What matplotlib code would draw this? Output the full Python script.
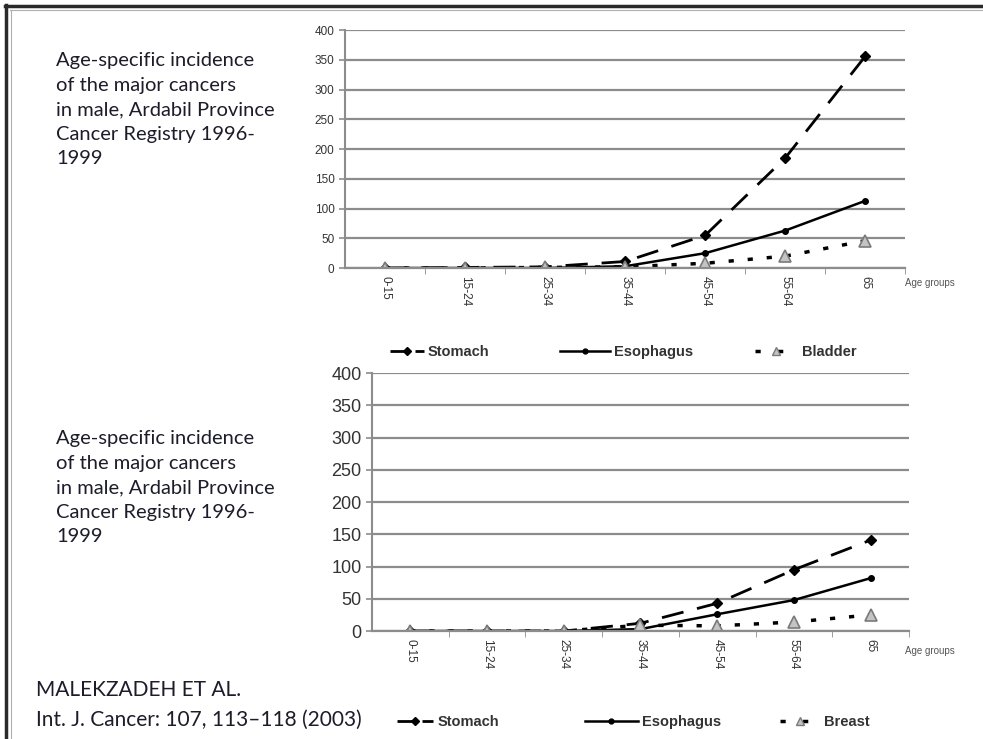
import matplotlib.pyplot as plt
from matplotlib.lines import Line2D
from matplotlib.ticker import FixedLocator

# ---- data ----
age_groups = ['0-15', '15-24', '25-34', '35-44', '45-54', '55-64', '65']
yticks = [0, 50, 100, 150, 200, 250, 300, 350, 400]

# top panel (stomach / esophagus / bladder)
stomach_top = [0, 1, 2, 11, 55, 185, 356]
esophagus_top = [0, 0, 0, 3, 25, 63, 113]
bladder_top = [0, 0, 1, 2, 8, 20, 46]

# bottom panel (stomach / esophagus / breast)
stomach_bot = [0, 0, 0, 12, 43, 95, 141]
esophagus_bot = [0, 0, 0, 3, 26, 48, 82]
breast_bot = [0, 0, 0, 9, 8, 14, 25]

caption = ('Age-specific incidence\nof the major cancers\n'
           'in male, Ardabil Province\nCancer Registry 1996-\n1999')

GRID = '#8c8c8c'
TXT = '#333333'
W, H = 983, 739

fig = plt.figure(figsize=(9.83, 7.39), dpi=100)


def draw_panel(ax, stomach, esophagus, third, ytick_size):
    x = range(len(age_groups))
    ax.plot(x, stomach, color='black', lw=2, dashes=(8, 5),
            marker='D', ms=5)
    ax.plot(x, esophagus, color='black', lw=1.8, ls='-',
            marker='o', ms=4)
    ax.plot(x, third, color='black', lw=2.5, dashes=(1.5, 4),
            marker='^', ms=8, mfc='#c4c4c4', mec='#7a7a7a', mew=1.2)

    ax.set_xlim(-0.5, len(age_groups) - 0.5)
    ax.set_ylim(0, 400)
    ax.set_yticks(yticks)
    ax.set_yticklabels([str(v) for v in yticks], fontsize=ytick_size,
                       color=TXT, family='Liberation Sans')
    ax.grid(axis='y', color=GRID, lw=1.6)
    ax.set_axisbelow(True)

    ax.set_xticks(list(x))
    ax.set_xticklabels(age_groups, rotation=-90, fontsize=8.5,
                       color=TXT, family='Liberation Sans')
    ax.tick_params(axis='x', length=0, pad=6)
    ax.xaxis.set_minor_locator(FixedLocator([i - 0.5 for i in range(1, 8)]))
    ax.tick_params(axis='x', which='minor', length=4, color=GRID, direction='out')
    ax.tick_params(axis='y', length=4, color=GRID, width=1.2)

    for side in ['top', 'right']:
        ax.spines[side].set_visible(False)
    ax.spines['left'].set_color(GRID)
    ax.spines['left'].set_linewidth(1.5)
    ax.spines['bottom'].set_color(GRID)
    ax.spines['bottom'].set_linewidth(1.6)
    ax.patch.set_alpha(0)


def entry(style, label):
    if style == 'dash':
        h = Line2D([0, 1], [0, 0], color='black', lw=2, dashes=(6, 3),
                   marker='D', ms=4, markevery=[1], label=label)
    elif style == 'solid':
        h = Line2D([0, 1], [0, 0], color='black', lw=1.8, marker='o',
                   ms=3.5, markevery=[1], label=label)
    else:
        h = Line2D([0, 1], [0, 0], color='black', lw=2.5, dashes=(1.5, 5),
                   marker='^', ms=6, mfc='#c4c4c4', mec='#7a7a7a',
                   markevery=[1], label=label)
    return h


def legend_row(labels, xs, y_px, hlens):
    styles = ['dash', 'solid', 'dot']
    for st, lab, xp, hl in zip(styles, labels, xs, hlens):
        fig.legend(handles=[entry(st, lab)], loc='center left',
                   bbox_to_anchor=(xp / W, 1 - y_px / H), frameon=False,
                   borderpad=0, borderaxespad=0, handlelength=hl,
                   handletextpad=0.3,
                   prop={'family': 'Liberation Sans', 'size': 10.5, 'weight': 'bold'},
                   labelcolor=TXT)


# top chart
ax1 = fig.add_axes([0.351, 0.6373, 0.570, 0.3221])
draw_panel(ax1, stomach_top, esophagus_top, bladder_top, 8.5)
fig.text(905 / W, 1 - 283 / H, 'Age groups', fontsize=7, color='#555555',
         family='Liberation Sans', ha='left', va='center')
legend_row(['Stomach', 'Esophagus', 'Bladder'], [390, 560, 755], 352,
           [2.3, 3.4, 2.9])

# bottom chart
ax2 = fig.add_axes([0.3784, 0.1461, 0.5463, 0.3491])
draw_panel(ax2, stomach_bot, esophagus_bot, breast_bot, 13)
fig.text(905 / W, 1 - 651 / H, 'Age groups', fontsize=7, color='#555555',
         family='Liberation Sans', ha='left', va='center')
legend_row(['Stomach', 'Esophagus', 'Breast'], [397, 585, 780], 722,
           [2.5, 3.6, 2.7])

# side captions
fig.text(0.057, 1 - 52 / H, caption, fontsize=14.5, family='Lato',
         color='#1c1c2a', ha='left', va='top', linespacing=1.54)
fig.text(0.057, 1 - 430 / H, caption, fontsize=14.5, family='Lato',
         color='#1c1c2a', ha='left', va='top', linespacing=1.54)

fig.text(0.037, 1 - 690 / H, 'MALEKZADEH ET AL.', fontsize=15, family='Lato',
         color='#1c1c2a', ha='left', va='center')
fig.text(0.037, 1 - 720 / H, 'Int. J. Cancer: 107, 113\u2013118 (2003)',
         fontsize=15, family='Lato', color='#1c1c2a', ha='left', va='center')

# picture frame (top and left edges)
fig.add_artist(Line2D([0.005, 1.0], [0.992, 0.992], color='#2a2a2a', lw=2.5))
fig.add_artist(Line2D([0.010, 1.0], [0.987, 0.987], color='#b0b0b0', lw=0.8))
fig.add_artist(Line2D([0.0065, 0.0065], [0.0, 0.993], color='#2a2a2a', lw=2.5))
fig.add_artist(Line2D([0.011, 0.011], [0.0, 0.987], color='#b0b0b0', lw=0.8))

plt.savefig('out.png', dpi=100)
